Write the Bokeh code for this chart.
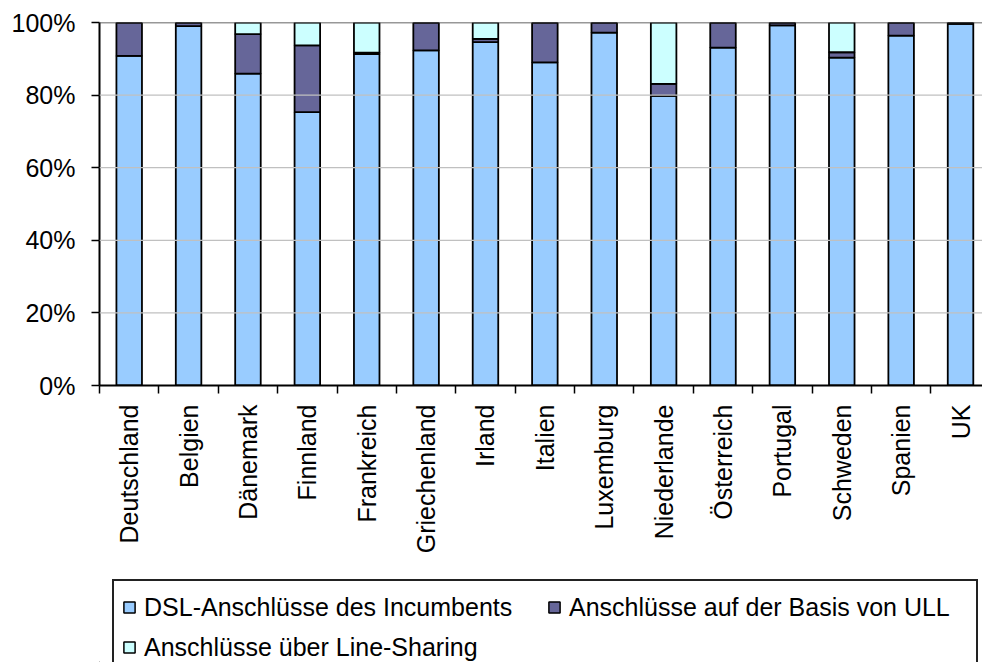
import numpy as np
from bokeh.plotting import figure
from bokeh.layouts import column
from bokeh.models import (ColumnDataSource, Range1d, FixedTicker, LinearAxis,
                          PrintfTickFormatter, Legend, LegendItem, Span)
from bokeh.embed import file_html
from bokeh.resources import INLINE

countries = ["Deutschland", "Belgien", "Dänemark", "Finnland", "Frankreich",
             "Griechenland", "Irland", "Italien", "Luxemburg", "Niederlande",
             "Österreich", "Portugal", "Schweden", "Spanien", "UK"]
incumbent = [90.8, 99.0, 85.9, 75.3, 91.3, 92.3, 94.6, 89.0, 97.2, 79.8,
             93.1, 99.2, 90.3, 96.4, 99.6]
ull = [9.2, 1.0, 10.9, 18.4, 0.4, 7.7, 0.9, 11.0, 2.8, 3.3,
       6.9, 0.8, 1.5, 3.6, 0.4]
line_sharing = [0.0, 0.0, 3.2, 6.3, 8.3, 0.0, 4.5, 0.0, 0.0, 16.9,
                0.0, 0.0, 8.2, 0.0, 0.0]
series_names = ["DSL-Anschlüsse des Incumbents",
                "Anschlüsse auf der Basis von ULL",
                "Anschlüsse über Line-Sharing"]
colors = ["#99CCFF", "#666699", "#CCFFFF"]
y_ticks = [0, 20, 40, 60, 80, 100]

FONT = "Liberation Sans"
FS = "25px"

x = np.arange(len(countries)) + 0.5
source = ColumnDataSource(dict(x=x, inc=incumbent, ull=ull, ls=line_sharing))

p = figure(output_backend="svg", toolbar_location=None,
           width=982, height=575,
           x_range=Range1d(0, 14.87), y_range=Range1d(0, 100),
           x_axis_type=None, y_axis_type=None,
           min_border_left=99, min_border_top=22, min_border_right=0,
           min_border_bottom=190)
p.outline_line_color = None
p.background_fill_color = "white"
p.border_fill_color = "white"

renderers = p.vbar_stack(["inc", "ull", "ls"], x="x", width=0.43, source=source,
                         fill_color=colors, line_color="black", line_width=1.8)

# Y axis
yaxis = LinearAxis(ticker=FixedTicker(ticks=y_ticks),
                   formatter=PrintfTickFormatter(format="%d%%"))
yaxis.axis_line_color = "black"
yaxis.axis_line_width = 2
yaxis.major_tick_line_color = "black"
yaxis.major_tick_line_width = 1.5
yaxis.major_tick_in = 0
yaxis.major_tick_out = 8
yaxis.minor_tick_line_color = None
yaxis.major_label_standoff = 16
yaxis.major_label_text_font = FONT
yaxis.major_label_text_font_size = FS
yaxis.major_label_text_color = "black"
p.add_layout(yaxis, "left")

# X axis: labels at centres, tick marks at category boundaries
xaxis = LinearAxis(ticker=FixedTicker(ticks=list(x),
                                      minor_ticks=list(np.arange(len(countries) + 1))))
xaxis.major_label_overrides = {float(xx): name for xx, name in zip(x, countries)}
xaxis.axis_line_color = "black"
xaxis.axis_line_width = 2
xaxis.major_tick_line_color = None
xaxis.major_tick_in = 0
xaxis.major_tick_out = 0
xaxis.minor_tick_line_color = "black"
xaxis.minor_tick_line_width = 1.5
xaxis.minor_tick_in = 0
xaxis.minor_tick_out = 8
xaxis.major_label_orientation = np.pi / 2
xaxis.major_label_standoff = 11
xaxis.major_label_text_font = FONT
xaxis.major_label_text_font_size = FS
xaxis.major_label_text_color = "black"
p.add_layout(xaxis, "below")

# grid lines
for t in y_ticks[1:-1]:
    p.add_layout(Span(location=t, dimension="width", line_color="#C0C0C0", line_width=1.2))
p.add_layout(Span(location=100, dimension="width", line_color="#333333", line_width=1.5))

# Legend in its own strip below the chart
pl = figure(output_backend="svg", toolbar_location=None,
            width=982, height=87,
            x_range=Range1d(0, 1), y_range=Range1d(0, 1),
            x_axis_type=None, y_axis_type=None,
            min_border_left=99, min_border_top=0, min_border_right=0,
            min_border_bottom=0)
pl.outline_line_color = None
pl.xgrid.visible = False
pl.ygrid.visible = False
# legend-only glyphs, placed outside the visible range
dummy = [pl.vbar(x=[-5], top=[-4], bottom=[-5], width=0.1, fill_color=c,
                 line_color="black", line_width=1.5)
         for c in colors]

legend = Legend(items=[LegendItem(label=n, renderers=[r]) for n, r in zip(series_names, dummy)],
                orientation="horizontal", ncols=2, location=(13, -13))
legend.label_text_font = FONT
legend.label_text_font_size = FS
legend.label_text_color = "black"
legend.glyph_width = 14
legend.glyph_height = 14
legend.label_standoff = 8
legend.label_height = 36
legend.label_width = 399
legend.spacing = 4
legend.padding = 8
legend.margin = 0
legend.border_line_color = "#222222"
legend.border_line_alpha = 1
legend.border_line_width = 2
legend.background_fill_alpha = 1
legend.background_fill_color = "white"
pl.add_layout(legend, "center")

layout = column(p, pl, spacing=0)
open("out.html", "w").write(file_html(layout, INLINE))
